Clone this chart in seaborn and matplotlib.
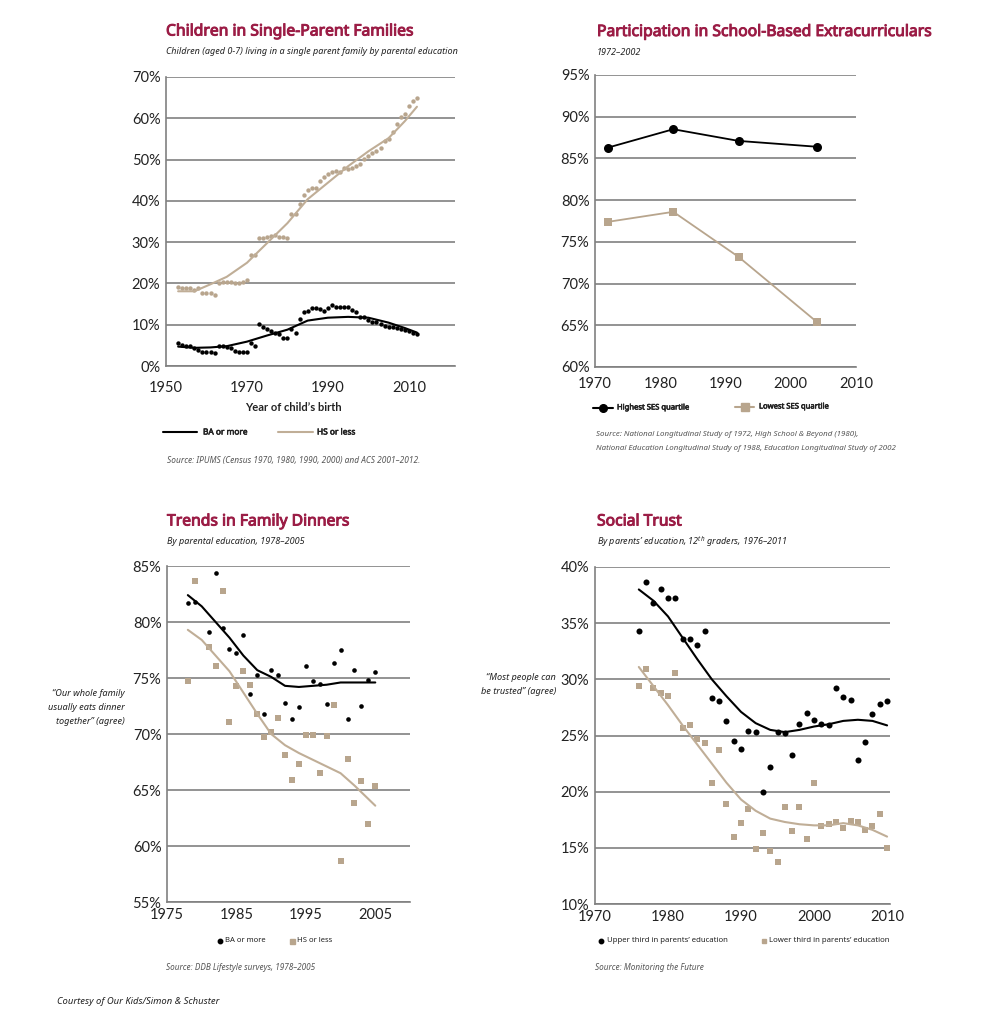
import matplotlib
matplotlib.use("Agg")
import matplotlib.pyplot as plt
import matplotlib.patheffects as pe
from matplotlib.lines import Line2D
import seaborn as sns

# ---------------- data ----------------
# Children in single-parent families, % by year of child's birth
birth_years = list(range(1953, 2013))
single_ba = [5.5, 5.2, 4.9, 4.8, 4.3, 3.9, 3.5, 3.3, 3.3, 3.1,
             4.9, 4.8, 4.7, 4.3, 3.7, 3.3, 3.3, 3.3,
             5.6, 4.9,
             10.2, 9.5, 9.0, 8.5, 8.1, 7.7, 6.9, 6.7,
             8.9, 8.1,
             11.5, 13.0, 13.4, 14.0, 14.0, 13.8, 13.4, 14.1, 14.8, 14.4,
             14.2, 14.2, 14.4, 13.5, 13.0,
             11.9, 11.9, 11.1, 10.7, 10.6, 10.2, 9.8, 9.5, 9.4, 9.1,
             8.9, 8.7, 8.5, 8.1, 7.7]
single_hs = [19.2, 19.0, 19.0, 19.0, 18.4, 18.8, 17.8, 17.7, 17.6, 17.3,
             20.2, 20.4, 20.4, 20.4, 20.2, 20.2, 20.4, 20.8,
             27.0, 27.0,
             31.0, 31.0, 31.3, 31.5, 31.7, 31.3, 31.3, 31.1,
             36.8, 36.9,
             39.2, 41.4, 42.6, 43.0, 43.2,
             44.8, 45.8, 46.4, 47.0, 47.2, 47.0, 48.0, 47.6, 48.0, 48.4, 49.0,
             50.2, 50.9, 51.5, 52.0, 52.7, 54.4, 55.1, 56.7, 58.5, 60.2,
             61.1, 62.9, 64.2, 64.9]
single_fit_years = [1953, 1957, 1961, 1965, 1970, 1975, 1980, 1985, 1990,
                    1995, 2000, 2005, 2009, 2012]
single_fit_ba = [4.7, 4.4, 4.5, 4.8, 5.9, 7.4, 8.8, 11.0, 11.7, 11.9, 11.7,
                 10.5, 9.2, 8.1]
single_fit_hs = [18.1, 18.1, 19.8, 21.6, 25.0, 29.8, 34.6, 40.4, 44.4, 48.4,
                 52.0, 55.2, 59.3, 62.8]

# Participation in school-based extracurriculars
extra_years = [1972, 1982, 1992, 2004]
extra_high = [86.3, 88.5, 87.1, 86.4]
extra_low = [77.4, 78.6, 73.2, 65.4]

# Family dinners
dinner_years_ba = [1978, 1979, 1981, 1982, 1983, 1984, 1985, 1986, 1987, 1988,
                   1989, 1990, 1991, 1992, 1993, 1994, 1995, 1996, 1997, 1998,
                   1999, 2000, 2001, 2002, 2003, 2004, 2005]
dinner_ba = [81.7, 81.8, 79.1, 84.4, 79.5, 77.6, 77.2, 78.8, 73.6, 75.3,
             71.8, 75.7, 75.3, 72.8, 71.3, 72.4, 76.1, 74.7, 74.5, 72.7,
             76.3, 77.5, 71.3, 75.7, 72.5, 74.8, 75.5]
dinner_years_hs = [1978, 1979, 1981, 1982, 1983, 1984, 1985, 1986, 1987, 1988,
                   1989, 1990, 1991, 1992, 1993, 1994, 1995, 1996, 1997, 1998,
                   1999, 2000, 2001, 2002, 2003, 2004, 2005]
dinner_hs = [74.7, 83.7, 77.8, 76.1, 82.8, 71.1, 74.3, 75.6, 74.4, 71.8,
             69.7, 70.2, 71.4, 68.1, 65.9, 67.3, 69.9, 69.9, 66.5, 69.8,
             72.6, 58.7, 67.8, 63.8, 65.8, 62.0, 65.4]
dinner_fit_years = [1978, 1980, 1982, 1984, 1986, 1988, 1990, 1992, 1994,
                    1996, 1998, 2000, 2002, 2005]
dinner_fit_ba = [82.4, 81.4, 80.0, 78.6, 77.0, 75.7, 75.1, 74.3, 74.2, 74.3,
                 74.4, 74.6, 74.6, 74.6]
dinner_fit_hs = [79.3, 78.4, 77.0, 75.6, 73.7, 71.8, 70.0, 69.0, 68.3, 67.7,
                 67.1, 66.5, 65.4, 63.6]

# Social trust, 12th graders
trust_years = list(range(1976, 2011))
trust_upper = [34.3, 38.7, 36.8, 38.0, 37.2, 37.2, 33.6, 33.6, 33.1, 34.3,
               28.3, 28.1, 26.3, 24.5, 23.8, 25.4, 25.3, 20.0, 22.2, 25.3,
               25.2, 23.3, 26.0, 27.0, 26.4, 26.0, 25.9, 29.2, 28.4, 28.2,
               22.8, 24.4, 26.9, 27.8, 28.1]
trust_lower = [29.4, 30.9, 29.2, 28.8, 28.5, 30.6, 25.7, 25.9, 24.7, 24.3,
               20.8, 23.7, 18.9, 16.0, 17.2, 18.5, 14.9, 16.3, 14.7, 13.7,
               18.6, 16.5, 18.6, 15.8, 20.8, 16.9, 17.1, 17.3, 16.8, 17.4,
               17.3, 16.6, 16.9, 18.0, 15.0]
trust_fit_years = [1976, 1978, 1980, 1982, 1984, 1986, 1988, 1990, 1992,
                   1994, 1996, 1998, 2000, 2002, 2004, 2006, 2008, 2010]
trust_fit_upper = [38.0, 37.0, 35.6, 33.7, 31.8, 30.0, 28.5, 27.1, 26.1, 25.5,
                   25.3, 25.5, 25.8, 26.0, 26.3, 26.4, 26.3, 25.9]
trust_fit_lower = [31.1, 29.4, 27.7, 25.9, 24.2, 22.5, 20.8, 19.3, 18.3, 17.6,
                   17.3, 17.1, 17.0, 17.0, 17.2, 17.0, 16.6, 16.0]

# ---------------- style ----------------
W, H = 991, 1024
TITLE_RED = "#9b1c45"
TAN = "#b8a58d"
TAN_LINE = "#c0ae97"
GRID = "#808080"
SRC = "#555555"
NARROW = ["Noto Sans Condensed", "Noto Sans", "DejaVu Sans"]

sns.set_theme(style="white")
plt.rcParams["font.family"] = ["Lato", "DejaVu Sans"]
plt.rcParams["mathtext.fontset"] = "custom"
plt.rcParams["mathtext.it"] = "Noto Sans:italic"

fig = plt.figure(figsize=(W / 100, H / 100), dpi=100)
fig.patch.set_facecolor("white")


def fx(px):
    return px / W


def fy(py):
    return 1 - py / H


def add_axes(left, top, right, bottom):
    return fig.add_axes([fx(left), fy(bottom), (right - left) / W, (bottom - top) / H])


def style_axes(ax, xticks, yticks, xlim, ylim, xpad, ypad=4):
    ax.set_xlim(*xlim)
    ax.set_ylim(*ylim)
    ax.set_xticks(xticks)
    ax.set_yticks(yticks)
    ax.set_yticklabels([f"{v}%" for v in yticks])
    ax.set_xlabel("")
    ax.set_ylabel("")
    ax.grid(axis="y", color=GRID, linewidth=1.2)
    ax.grid(axis="x", visible=False)
    ax.set_axisbelow(True)
    for side in ["top", "right"]:
        ax.spines[side].set_visible(False)
    for side in ["left", "bottom"]:
        ax.spines[side].set_color(GRID)
        ax.spines[side].set_linewidth(1.2)
    ax.tick_params(axis="x", direction="in", length=4, width=1, color=GRID,
                   pad=xpad, labelsize=10.5, labelcolor="#222222")
    ax.tick_params(axis="y", length=0, pad=ypad, labelsize=10.5,
                   labelcolor="#222222")
    ax.set_facecolor("white")


def bolden(color, w):
    return [pe.withStroke(linewidth=w, foreground=color)]


def title_block(x, y, title, subtitle):
    fig.text(fx(x), fy(y), title, family=NARROW, stretch="condensed", weight="bold",
             fontsize=11.3, color=TITLE_RED, va="center", ha="left",
             path_effects=bolden(TITLE_RED, 0.7))
    fig.text(fx(x), fy(y + 20.5), subtitle, family=NARROW, stretch="condensed",
             style="italic", fontsize=6.5, color="#222222", va="center", ha="left")


def small(x, y, s, heavy=False, **kw):
    opts = dict(family=NARROW, stretch="condensed", fontsize=5.8, color="#222222",
                va="center", ha="left")
    opts.update(kw)
    if heavy:
        opts["path_effects"] = bolden(opts["color"], 0.4)
    fig.text(fx(x), fy(y), s, **opts)


def key_line(x0, x1, y, color, marker=None, ms=0):
    fig.add_artist(Line2D([fx(x0), fx(x1)], [fy(y), fy(y)], color=color, lw=1.5,
                          transform=fig.transFigure))
    if marker:
        fig.add_artist(Line2D([fx((x0 + x1) / 2)], [fy(y)], color=color, marker=marker,
                              markersize=ms, lw=0, transform=fig.transFigure))


def key_marker(x, y, color, marker, ms):
    fig.add_artist(Line2D([fx(x)], [fy(y)], color=color, marker=marker,
                          markersize=ms, lw=0, transform=fig.transFigure))


# ---------------- panel 1: single-parent families ----------------
ax1 = add_axes(166, 77, 455, 366)
sns.scatterplot(x=birth_years, y=single_hs, color=TAN, s=10, linewidth=0, ax=ax1)
sns.scatterplot(x=birth_years, y=single_ba, color="black", s=10, linewidth=0, ax=ax1)
sns.lineplot(x=single_fit_years, y=single_fit_hs, color=TAN_LINE, lw=1.5, ax=ax1)
sns.lineplot(x=single_fit_years, y=single_fit_ba, color="black", lw=1.5, ax=ax1)
style_axes(ax1, [1950, 1970, 1990, 2010], list(range(0, 71, 10)),
           (1950, 2021.4), (0, 70), xpad=11)

title_block(166, 31.5, "Children in Single-Parent Families",
            "Children (aged 0-7) living in a single parent family by parental education")
fig.text(fx(293), fy(407.5), "Year of child\u2019s birth", family=["Lato", "DejaVu Sans"],
         fontsize=8.0, weight="bold", color="#222222", ha="center", va="center")
key_line(163, 197, 432, "black")
small(203, 432, "BA or more", heavy=True, fontsize=6.0)
key_line(278, 313, 432, TAN_LINE)
small(317, 432, "HS or less", heavy=True, fontsize=6.0)
small(167, 460, "Source: IPUMS (Census 1970, 1980, 1990, 2000) and ACS 2001\u20132012.",
      style="italic", color=SRC, fontsize=6.0)

# ---------------- panel 2: extracurriculars ----------------
ax2 = add_axes(595, 75, 856, 367)
sns.lineplot(x=extra_years, y=extra_high, color="black", lw=1.3, marker="o",
             markersize=6.5, markeredgewidth=0, ax=ax2)
sns.lineplot(x=extra_years, y=extra_low, color=TAN, lw=1.3, marker="s",
             markersize=5.5, markeredgewidth=0, ax=ax2)
style_axes(ax2, [1970, 1980, 1990, 2000, 2010], list(range(60, 96, 5)),
           (1970, 2010), (60, 95), xpad=7)

title_block(597, 32, "Participation in School-Based Extracurriculars", "1972\u20132002")
key_line(593, 613, 408, "black", marker="o", ms=5.5)
small(617, 408, "Highest SES quartile", heavy=True, fontsize=5.5)
key_line(735, 754, 407, TAN, marker="s", ms=5.5)
small(759, 407, "Lowest SES quartile", heavy=True, fontsize=5.5)
small(596, 435, "Source: National Longitudinal Study of 1972, High School & Beyond (1980),",
      style="italic", color=SRC, fontsize=5.7)
small(596, 449, "National Education Longitudinal Study of 1988, Education Longitudinal Study of 2002",
      style="italic", color=SRC, fontsize=5.7)

# ---------------- panel 3: family dinners ----------------
ax3 = add_axes(167, 566, 410, 902)
sns.scatterplot(x=dinner_years_hs, y=dinner_hs, color=TAN, marker="s", s=13,
                linewidth=0, ax=ax3)
sns.scatterplot(x=dinner_years_ba, y=dinner_ba, color="black", marker="o", s=11,
                linewidth=0, ax=ax3)
sns.lineplot(x=dinner_fit_years, y=dinner_fit_hs, color=TAN_LINE, lw=1.5, ax=ax3)
sns.lineplot(x=dinner_fit_years, y=dinner_fit_ba, color="black", lw=1.5, ax=ax3)
style_axes(ax3, [1975, 1985, 1995, 2005], list(range(55, 86, 5)),
           (1975, 2010), (55, 85), xpad=4.5)

title_block(167, 521.5, "Trends in Family Dinners", "By parental education, 1978\u20132005")
for i, line in enumerate(["\u201cOur whole family", "usually eats dinner",
                          "together\u201d (agree)"]):
    small(125, 693.5 + i * 13.8, line, style="italic", fontsize=6.6, ha="right")
key_marker(220, 941, "black", "o", 3.2)
small(225, 941, "BA or more", fontsize=5.5)
key_marker(292, 941, TAN, "s", 3.6)
small(297, 941, "HS or less", fontsize=5.5)
small(166, 968, "Source: DDB Lifestyle surveys, 1978\u20132005", style="italic",
      color=SRC, fontsize=5.9)

# ---------------- panel 4: social trust ----------------
ax4 = add_axes(595, 567, 890, 904)
sns.scatterplot(x=trust_years, y=trust_lower, color=TAN, marker="s", s=13,
                linewidth=0, ax=ax4)
sns.scatterplot(x=trust_years, y=trust_upper, color="black", marker="o", s=19,
                linewidth=0, ax=ax4)
sns.lineplot(x=trust_fit_years, y=trust_fit_lower, color=TAN_LINE, lw=1.5, ax=ax4)
sns.lineplot(x=trust_fit_years, y=trust_fit_upper, color="black", lw=1.5, ax=ax4)
style_axes(ax4, [1970, 1980, 1990, 2000, 2010], list(range(10, 41, 5)),
           (1970, 2010.4), (10, 40), xpad=4.5)

title_block(597, 521.5, "Social Trust",
            "By parents\u2019 education, 12$^{th}$ graders, 1976\u20132011")
small(556, 678, "\u201cMost people can", style="italic", fontsize=6.6, ha="right")
small(556, 692, "be trusted\u201d (agree)", style="italic", fontsize=6.6, ha="right")
key_marker(601, 941, "black", "o", 3.2)
small(607, 941, "Upper third in parents\u2019 education", fontsize=5.6)
key_marker(764, 941, TAN, "s", 3.0)
small(769, 941, "Lower third in parents\u2019 education", fontsize=5.6)
small(595, 968, "Source: Monitoring the Future", style="italic", color=SRC, fontsize=5.9)

# footer
small(57, 1002, "Courtesy of Our Kids/Simon & Schuster", style="italic", fontsize=6.8)

fig.savefig("out.png", dpi=100, facecolor="white")
